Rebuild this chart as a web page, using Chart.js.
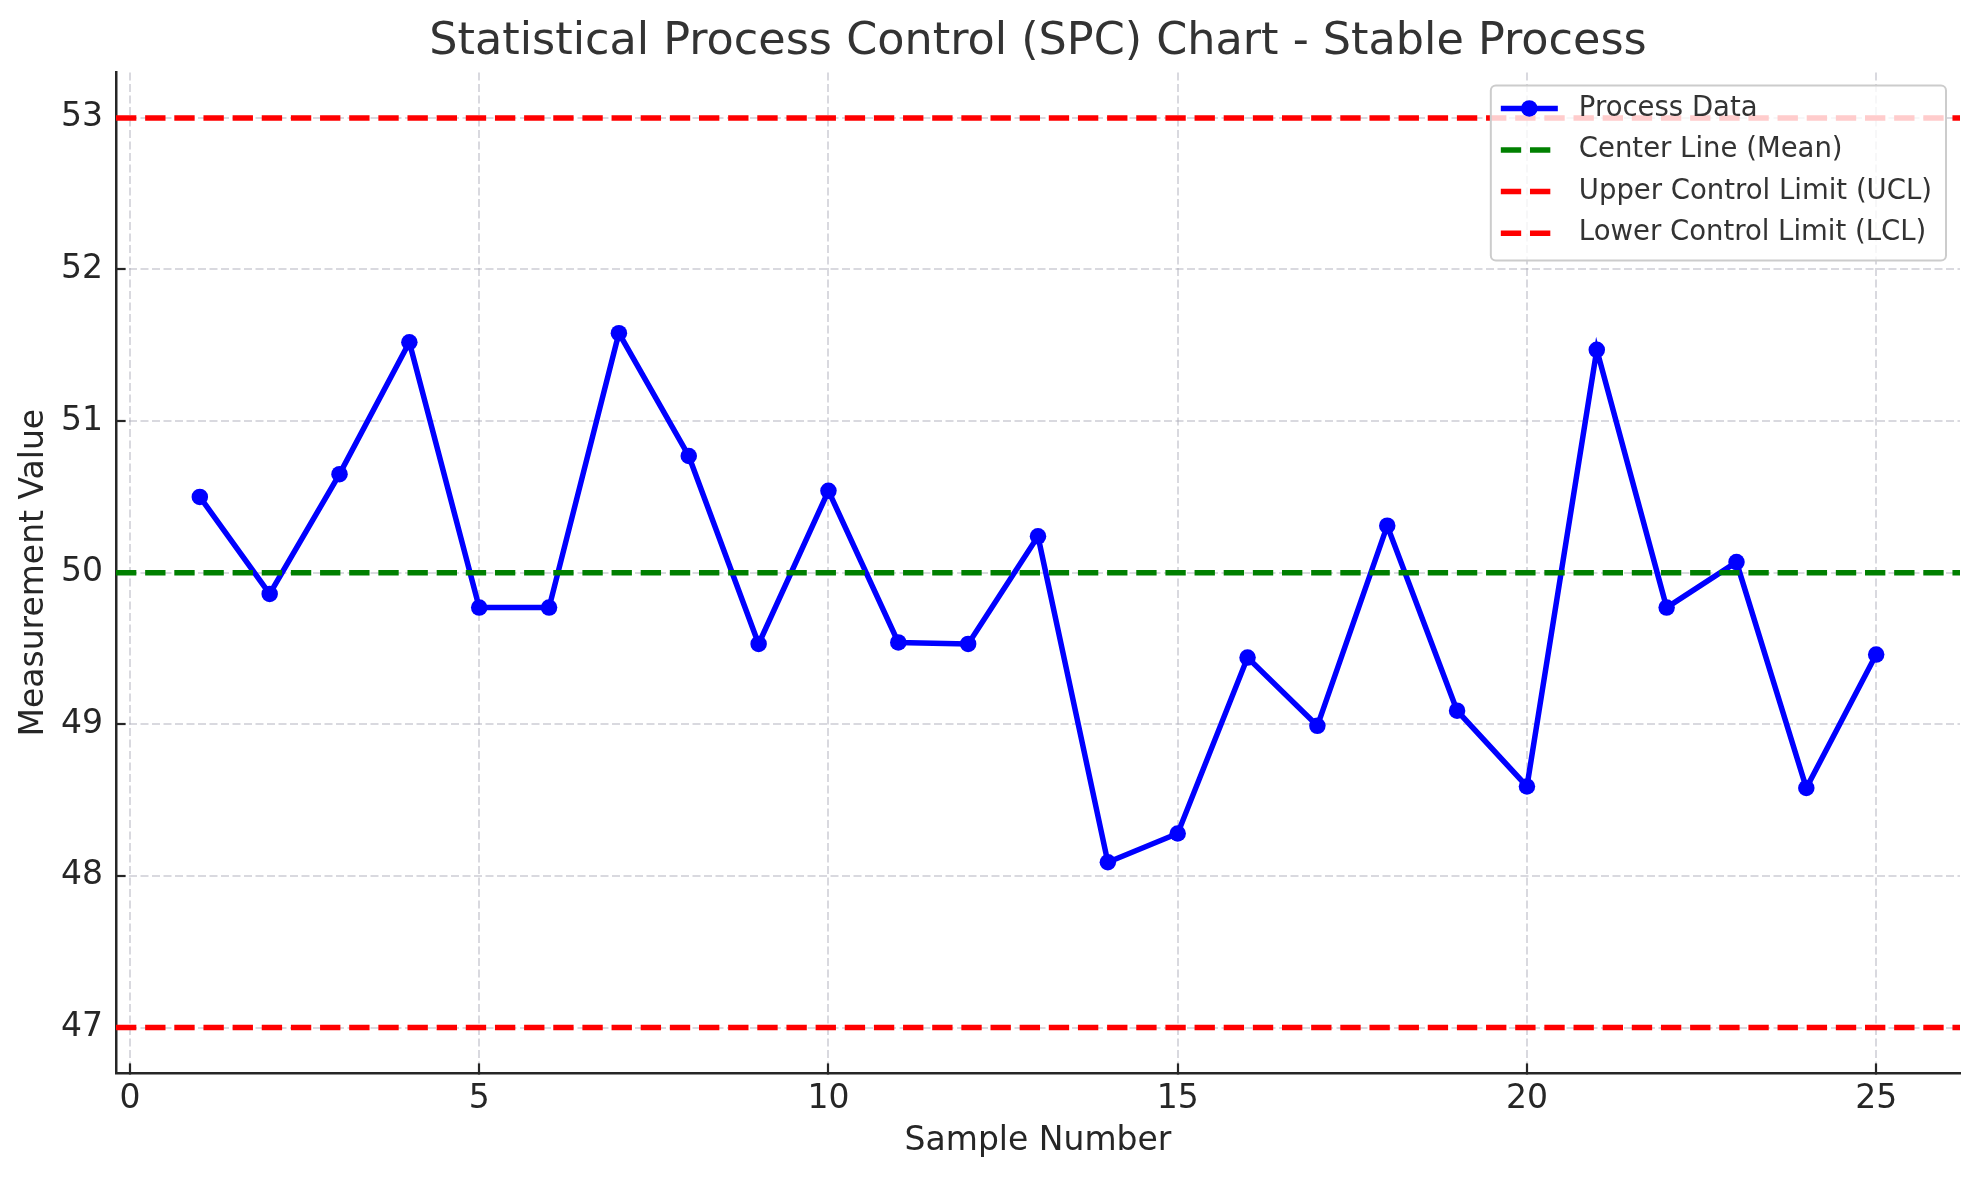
<!DOCTYPE html>
<html>
<head>
<meta charset="utf-8">
<script src="https://cdn.jsdelivr.net/npm/chart.js@4.4.1/dist/chart.umd.min.js"></script>
<style>
  html, body { margin: 0; padding: 0; background: #fff; }
  #wrap { width: 1980px; height: 1180px; position: relative; }
</style>
</head>
<body>
<div id="wrap"><canvas id="spc"></canvas></div>
<script>
// chart data
const sampleNumbers = [1, 2, 3, 4, 5, 6, 7, 8, 9, 10, 11, 12, 13, 14, 15, 16, 17, 18, 19, 20, 21, 22, 23, 24, 25];
const measurements = [50.50, 49.86, 50.65, 51.52, 49.77, 49.77, 51.58, 50.77, 49.53, 50.54,
                      49.54, 49.53, 50.24, 48.09, 48.28, 49.44, 48.99, 50.31, 49.09, 48.59,
                      51.47, 49.77, 50.07, 48.58, 49.46];
const centerLine = 50;
const upperLimit = 53;
const lowerLimit = 47;
const xTicks = [0, 5, 10, 15, 20, 25];
const yTicks = [47, 48, 49, 50, 51, 52, 53];
const xRange = [-0.2, 26.2];
const yRange = [46.7, 53.3];

const lineDash = [20.35, 8.8];
const fontFamily = "'DejaVu Sans', sans-serif";
Chart.defaults.font.family = fontFamily;

const hline = (value) => [{ x: xRange[0], y: value }, { x: xRange[1], y: value }];

// legend drawn inside the plot, top right
const insideLegend = {
  id: 'insideLegend',
  afterDraw(chart) {
    const { ctx, chartArea } = chart;
    const items = chart.data.datasets;
    ctx.save();
    ctx.font = "27.5px " + fontFamily;
    const textW = Math.max(...items.map(d => ctx.measureText(d.label).width));
    const w = 10 + 57 + 21 + textW + 14;
    const h = 175;
    const left = chartArea.right - 14 - w;
    const top = chartArea.top + 13;
    ctx.beginPath();
    ctx.roundRect(left, top, w, h, 5);
    ctx.fillStyle = 'rgba(255,255,255,0.8)';
    ctx.fill();
    ctx.lineWidth = 2;
    ctx.strokeStyle = '#cccccc';
    ctx.stroke();
    items.forEach((d, i) => {
      const cy = top + 23 + i * 41.6;
      const x0 = left + 10, x1 = x0 + 57;
      ctx.beginPath();
      ctx.setLineDash(d.borderDash || []);
      ctx.lineWidth = 5.5;
      ctx.strokeStyle = d.borderColor;
      ctx.moveTo(x0, cy);
      ctx.lineTo(x1, cy);
      ctx.stroke();
      ctx.setLineDash([]);
      if (d.pointRadius) {
        ctx.beginPath();
        ctx.arc((x0 + x1) / 2, cy, d.pointRadius, 0, Math.PI * 2);
        ctx.fillStyle = d.borderColor;
        ctx.fill();
      }
      ctx.fillStyle = '#333333';
      ctx.textBaseline = 'middle';
      ctx.fillText(d.label, x1 + 21, cy);
    });
    ctx.restore();
  }
};

// shared grid look; negative tick length puts the tick marks inside the plot
const gridStyle = {
  color: 'rgba(170,170,185,0.45)',
  lineWidth: 2,
  tickLength: -9.6,
  tickWidth: 2.2,
  tickColor: '#262626',
  tickBorderDash: []
};

const ctx = document.getElementById('spc').getContext('2d');
new Chart(ctx, {
  type: 'line',
  data: {
    datasets: [
      {
        label: 'Process Data',
        data: sampleNumbers.map((s, i) => ({ x: s, y: measurements[i] })),
        borderColor: '#0000ff',
        backgroundColor: '#0000ff',
        borderWidth: 5.5,
        pointRadius: 8.25,
        pointBorderWidth: 0,
        tension: 0,
        order: 1
      },
      {
        label: 'Center Line (Mean)',
        data: hline(centerLine),
        borderColor: '#008000',
        borderWidth: 5.5,
        borderDash: lineDash,
        pointRadius: 0,
        order: 0
      },
      {
        label: 'Upper Control Limit (UCL)',
        data: hline(upperLimit),
        borderColor: '#ff0000',
        borderWidth: 5.5,
        borderDash: lineDash,
        pointRadius: 0,
        order: 0
      },
      {
        label: 'Lower Control Limit (LCL)',
        data: hline(lowerLimit),
        borderColor: '#ff0000',
        borderWidth: 5.5,
        borderDash: lineDash,
        pointRadius: 0,
        order: 0
      }
    ]
  },
  options: {
    responsive: true,
    maintainAspectRatio: false,
    animation: false,
    layout: { padding: { top: 0, right: 20, left: 0, bottom: 0 } },
    plugins: {
      legend: { display: false },
      tooltip: { enabled: false },
      title: {
        display: true,
        fullSize: false,
        text: 'Statistical Process Control (SPC) Chart - Stable Process',
        color: '#333333',
        font: { size: 44.5, weight: 'normal', lineHeight: 1.2 },
        padding: { top: 16, bottom: 3 }
      }
    },
    scales: {
      x: {
        type: 'linear',
        min: xRange[0],
        max: xRange[1],
        afterBuildTicks: (scale) => { scale.ticks = xTicks.map(v => ({ value: v })); },
        afterFit: (scale) => { scale.height = 107; },
        ticks: { color: '#262626', font: { size: 33 }, padding: 16.2, maxRotation: 0 },
        grid: gridStyle,
        border: { display: true, color: '#262626', width: 2.5, dash: [8, 3.5] },
        title: {
          display: true,
          text: 'Sample Number',
          color: '#262626',
          font: { size: 33, lineHeight: 1.2 },
          padding: { top: 0, bottom: 19 }
        }
      },
      y: {
        type: 'linear',
        min: yRange[0],
        max: yRange[1],
        afterBuildTicks: (scale) => { scale.ticks = yTicks.map(v => ({ value: v })); },
        afterFit: (scale) => { scale.width = 116; },
        ticks: { color: '#262626', font: { size: 33 }, padding: 22.6 },
        grid: gridStyle,
        border: { display: true, color: '#262626', width: 2.5, dash: [8, 3.5] },
        title: {
          display: true,
          text: 'Measurement Value',
          color: '#262626',
          font: { size: 33, lineHeight: 1.2 },
          padding: { top: 15, bottom: 0 }
        }
      }
    }
  },
  plugins: [insideLegend]
});
</script>
</body>
</html>
